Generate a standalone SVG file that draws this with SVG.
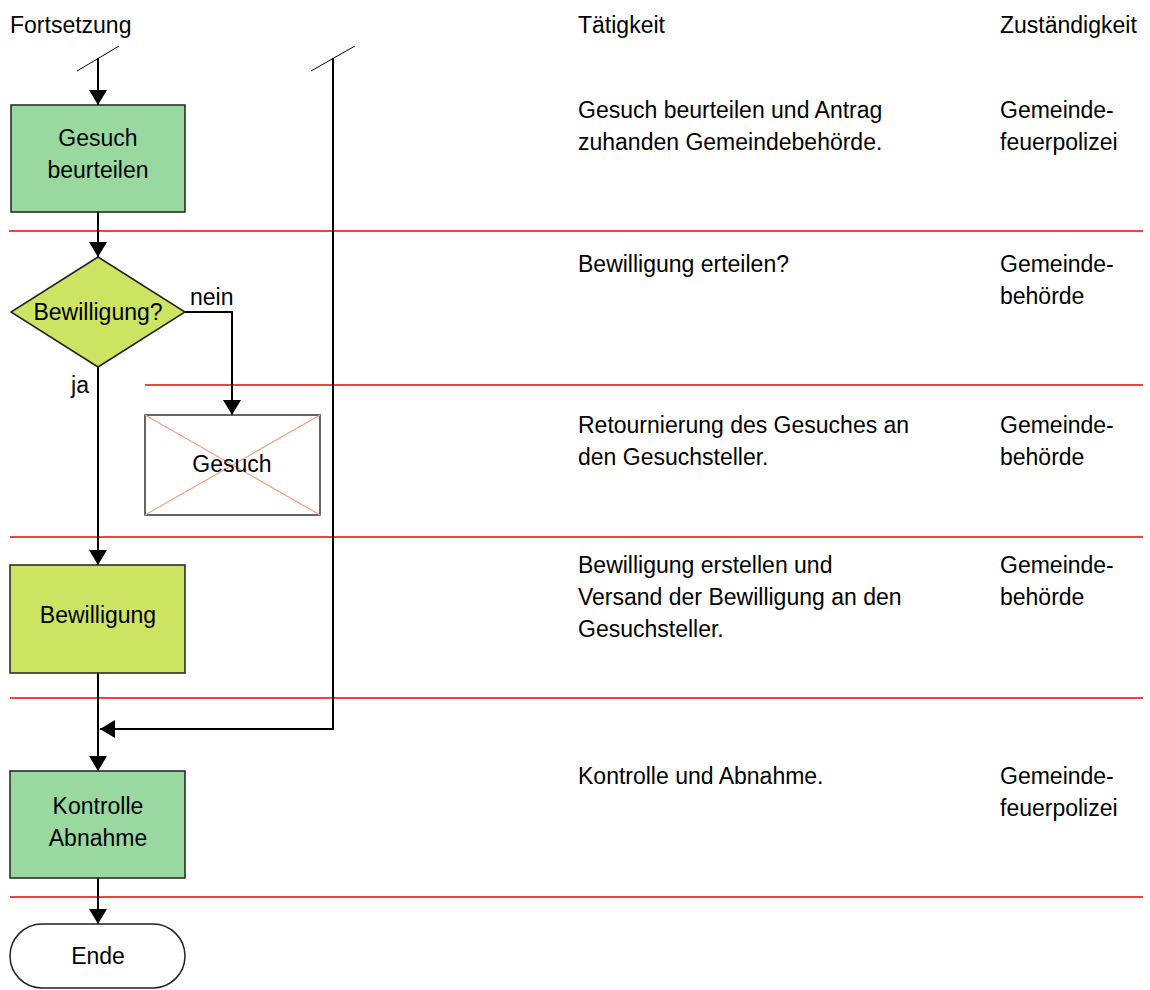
<svg xmlns="http://www.w3.org/2000/svg" width="1150" height="990" viewBox="0 0 1150 990">
<style>
text{font-family:"Liberation Sans",Arial,sans-serif;font-size:23px;fill:#000}
.c{text-anchor:middle}
.sep{stroke:#F00000;stroke-width:1.6}
.box{stroke:#222;stroke-width:1.5}
.con{fill:none;stroke:#000;stroke-width:2}
.thin{stroke:#000;stroke-width:1}
</style>
<defs>
<marker id="ah" markerUnits="userSpaceOnUse" markerWidth="16" markerHeight="18" refX="15" refY="9" orient="auto">
<path d="M0,0 L15,9 L0,18 Z" fill="#000"/>
</marker>
</defs>
<rect width="1150" height="990" fill="#fff"/>
<g id="header">
<text x="10" y="33">Fortsetzung</text>
<text x="578" y="33">Tätigkeit</text>
<text x="1000" y="33">Zuständigkeit</text>
</g>
<g id="separators">
<line class="sep" x1="9" y1="231" x2="1143" y2="231"/>
<line class="sep" x1="145" y1="385" x2="1143" y2="385"/>
<line class="sep" x1="10" y1="537" x2="1143" y2="537"/>
<line class="sep" x1="10" y1="698" x2="1143" y2="698"/>
<line class="sep" x1="10" y1="897" x2="1143" y2="897"/>
</g>
<g id="connectors">
<line class="thin" x1="77" y1="71" x2="119" y2="46"/>
<line class="thin" x1="311" y1="71" x2="355" y2="46"/>
<path class="con" d="M98,58 L98,105" marker-end="url(#ah)"/>
<path class="con" d="M333,58 L333,729 L100,729" marker-end="url(#ah)"/>
<path class="con" d="M98,212 L98,257" marker-end="url(#ah)"/>
<path class="con" d="M185,312 L232,312 L232,415" marker-end="url(#ah)"/>
<path class="con" d="M98,367 L98,565" marker-end="url(#ah)"/>
<path class="con" d="M98,673 L98,771" marker-end="url(#ah)"/>
<path class="con" d="M98,878 L98,924" marker-end="url(#ah)"/>
<text x="190" y="305">nein</text>
<text x="89" y="393" text-anchor="end">ja</text>
</g>
<g id="node-gesuch-beurteilen">
<rect class="box" x="11" y="105" width="174" height="107" fill="#99D9A0"/>
<text class="c" x="98" y="146">Gesuch</text>
<text class="c" x="98" y="178">beurteilen</text>
</g>
<g id="node-bewilligung-decision">
<polygon class="box" points="98,257 185,312 98,367 11,312" fill="#CCE462"/>
<text class="c" x="98" y="320">Bewilligung?</text>
</g>
<g id="node-gesuch-return">
<rect x="145" y="415" width="175" height="100" fill="#fff" stroke="#333" stroke-width="1.5"/>
<line x1="145" y1="415" x2="320" y2="515" stroke="#F4A080" stroke-width="1.2"/>
<line x1="320" y1="415" x2="145" y2="515" stroke="#F4A080" stroke-width="1.2"/>
<text class="c" x="232" y="472">Gesuch</text>
</g>
<g id="node-bewilligung">
<rect class="box" x="10" y="565" width="175" height="108" fill="#CCE462"/>
<text class="c" x="98" y="623">Bewilligung</text>
</g>
<g id="node-kontrolle">
<rect class="box" x="10" y="771" width="175" height="107" fill="#99D9A0"/>
<text class="c" x="98" y="814">Kontrolle</text>
<text class="c" x="98" y="846">Abnahme</text>
</g>
<g id="node-ende">
<rect class="box" x="10" y="924" width="175" height="64" rx="32" ry="32" fill="#fff"/>
<text class="c" x="98" y="964">Ende</text>
</g>
<g id="descriptions">
<text x="578" y="118">Gesuch beurteilen und Antrag</text>
<text x="578" y="150">zuhanden Gemeindebehörde.</text>
<text x="1000" y="118">Gemeinde-</text>
<text x="1000" y="150">feuerpolizei</text>
<text x="578" y="272">Bewilligung erteilen?</text>
<text x="1000" y="272">Gemeinde-</text>
<text x="1000" y="304">behörde</text>
<text x="578" y="433">Retournierung des Gesuches an</text>
<text x="578" y="465">den Gesuchsteller.</text>
<text x="1000" y="433">Gemeinde-</text>
<text x="1000" y="465">behörde</text>
<text x="578" y="573">Bewilligung erstellen und</text>
<text x="578" y="605">Versand der Bewilligung an den</text>
<text x="578" y="637">Gesuchsteller.</text>
<text x="1000" y="573">Gemeinde-</text>
<text x="1000" y="605">behörde</text>
<text x="578" y="784">Kontrolle und Abnahme.</text>
<text x="1000" y="784">Gemeinde-</text>
<text x="1000" y="816">feuerpolizei</text>
</g>
</svg>
